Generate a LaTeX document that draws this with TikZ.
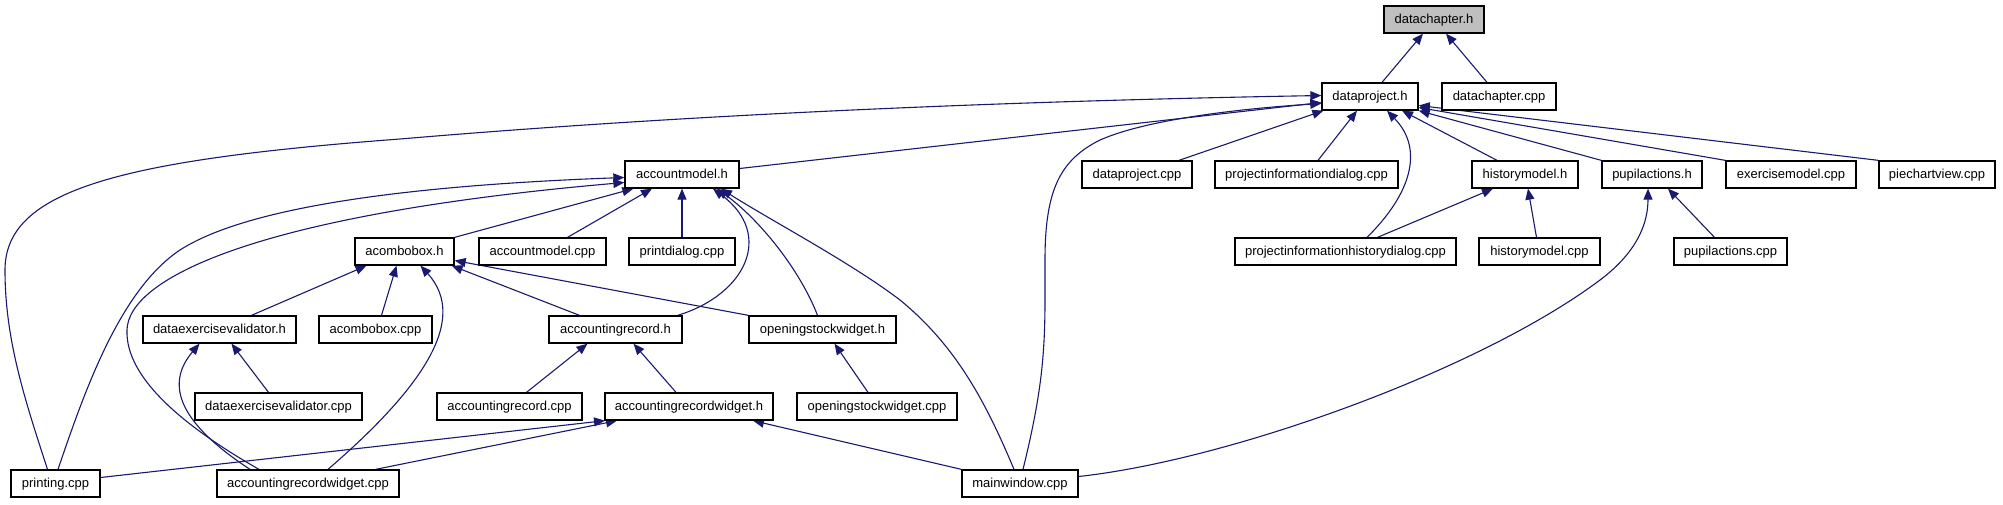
\documentclass[tikz,border=0pt]{standalone}
\usepackage{fontspec}
\setmainfont{Liberation Sans}
\usetikzlibrary{arrows.meta,calc}
\definecolor{edgeblue}{HTML}{191970}
\definecolor{rootgray}{HTML}{BFBFBF}
\pgfdeclarelayer{edges}
\pgfsetlayers{edges,main}
\begin{document}
\begin{tikzpicture}[x=1pt,y=-1pt,
  box/.style={draw=black, line width=1.3pt, fill=white, rectangle, minimum height=27pt,
    inner sep=0pt, text height=9.5pt, text depth=1.5pt, font=\fontsize{13pt}{15pt}\selectfont},
  dep/.style={draw=edgeblue, line width=1.1pt, -{Triangle[length=11pt,width=9pt]}}]
\useasboundingbox (0,0) rectangle (2003,504);
\begin{pgfonlayer}{edges}
\fill[white] (0,0) rectangle (2003,504);
\end{pgfonlayer}
% row 0
\node[box, minimum width=100pt, fill=rootgray] (dch) at (1434,19.5) {datachapter.h};
% row 1
\node[box, minimum width=96pt] (dp) at (1370,96.5) {dataproject.h};
\node[box, minimum width=114pt] (dchc) at (1499,96.5) {datachapter.cpp};
% row 2
\node[box, minimum width=114pt] (am) at (682,174.5) {accountmodel.h};
\node[box, minimum width=110pt] (dpc) at (1137,174.5) {dataproject.cpp};
\node[box, minimum width=183pt] (pid) at (1306.5,174.5) {projectinformationdialog.cpp};
\node[box, minimum width=106pt] (hm) at (1525,174.5) {historymodel.h};
\node[box, minimum width=100pt] (pa) at (1652,174.5) {pupilactions.h};
\node[box, minimum width=130pt] (em) at (1791,174.5) {exercisemodel.cpp};
\node[box, minimum width=116pt] (pcv) at (1937,174.5) {piechartview.cpp};
% row 3
\node[box, minimum width=99pt] (acb) at (404.5,251.5) {acombobox.h};
\node[box, minimum width=127pt] (amc) at (542.5,251.5) {accountmodel.cpp};
\node[box, minimum width=106pt] (pd) at (682,251.5) {printdialog.cpp};
\node[box, minimum width=221pt] (pihd) at (1345.5,251.5) {projectinformationhistorydialog.cpp};
\node[box, minimum width=121pt] (hmc) at (1539.5,251.5) {historymodel.cpp};
\node[box, minimum width=113pt] (pac) at (1730.5,251.5) {pupilactions.cpp};
% row 4
\node[box, minimum width=153pt] (dvh) at (219.5,329.5) {dataexercisevalidator.h};
\node[box, minimum width=113pt] (acbc) at (375.5,329.5) {acombobox.cpp};
\node[box, minimum width=133pt] (arh) at (615.5,329.5) {accountingrecord.h};
\node[box, minimum width=147pt] (osw) at (822.5,329.5) {openingstockwidget.h};
% row 5
\node[box, minimum width=167pt] (dvc) at (278.5,406.5) {dataexercisevalidator.cpp};
\node[box, minimum width=145pt] (arc) at (509.5,406.5) {accountingrecord.cpp};
\node[box, minimum width=168pt] (arwh) at (689,406.5) {accountingrecordwidget.h};
\node[box, minimum width=160pt] (oswc) at (877,406.5) {openingstockwidget.cpp};
% row 6
\node[box, minimum width=89pt] (pr) at (55.5,483.5) {printing.cpp};
\node[box, minimum width=182pt] (arwc) at (308,483.5) {accountingrecordwidget.cpp};
\node[box, minimum width=116pt] (mw) at (1020,483.5) {mainwindow.cpp};

\begin{pgfonlayer}{edges}
% edges to datachapter.h
\draw[dep] ($(dp.north)+(12,0)$) -- ($(dch.south)+(-11,0)$);
\draw[dep] ($(dchc.north)+(-12,0)$) -- ($(dch.south)+(12,0)$);
% edges to dataproject.h
\draw[dep] ($(am.east)+(0,-6)$) -- ($(dp.west)+(0,6)$);
\draw[dep] ($(pr.north)+(-8,0)$) .. controls (25,400) and (5,340) .. (5,270)
  .. controls (5,190) and (120,160) .. (400,139)
  .. controls (600,122) and (900,103) .. ($(dp.west)+(0,-1)$);
\draw[dep] ($(mw.north)+(3,0)$) .. controls (1040,400) and (1045,360) .. (1045,300) -- (1045,260)
  .. controls (1045,190) and (1060,160) .. (1100,140)
  .. controls (1150,118) and (1250,108) .. ($(dp.west)+(0,7)$);
\draw[dep] ($(dpc.north)+(42,0)$) -- ($(dp.south west)+(2,0)$);
\draw[dep] ($(pid.north)+(11.5,0)$) -- ($(dp.south)+(-13,0)$);
\draw[dep] ($(pihd.north)+(21.5,0)$) .. controls (1410,195) and (1425,150) .. ($(dp.south)+(17,0)$);
\draw[dep] ($(hm.north)+(-28,0)$) -- ($(dp.south)+(32,0)$);
\draw[dep] (pa.north west) -- (dp.south east);
\draw[dep] (em.north west) -- ($(dp.east)+(0,11)$);
\draw[dep] (pcv.north west) -- ($(dp.east)+(0,9)$);
% edges to accountmodel.h
\draw[dep] (acb.north east) -- ($(am.south west)+(9,0)$);
\draw[dep] ($(amc.north)+(25,0)$) -- ($(am.south)+(-30,0)$);
\draw[dep] (pd.north) -- (am.south);
\draw[dep] ($(arh.north east)+(-5,0)$) .. controls (745,295) and (775,235) .. ($(am.south)+(31,0)$);
\draw[dep] ($(osw.north)+(-5,0)$) .. controls (800,270) and (760,220) .. ($(am.south)+(35,0)$);
\draw[dep] ($(mw.north)+(-6,0)$) .. controls (985,400) and (955,345) .. (900,300)
  .. controls (850,262) and (770,220) .. ($(am.south)+(39,0)$);
\draw[dep] ($(pr.north)+(2.5,0)$) .. controls (85,390) and (120,290) .. (180,250)
  .. controls (250,205) and (420,185) .. ($(am.west)+(0,3)$);
\draw[dep] ($(arwc.north)+(-49,0)$) .. controls (190,430) and (125,380) .. (127,330)
  .. controls (128,280) and (250,215) .. ($(am.west)+(0,8)$);
% edges to acombobox.h
\draw[dep] ($(dvh.north)+(32,0)$) -- ($(acb.south)+(-38,0)$);
\draw[dep] ($(acbc.north)+(6,0)$) -- ($(acb.south)+(-8,0)$);
\draw[dep] ($(arwc.north)+(20,0)$) .. controls (420,390) and (470,320) .. ($(acb.south)+(16,0)$);
\draw[dep] ($(arh.north)+(-36,0)$) -- ($(acb.south east)+(-3,0)$);
\draw[dep] (osw.north west) -- ($(acb.east)+(0,9)$);
% edges to dataexercisevalidator.h
\draw[dep] ($(dvc.north)+(-10,0)$) -- ($(dvh.south)+(12,0)$);
\draw[dep] ($(arwc.north)+(-58,0)$) .. controls (190,430) and (160,390) .. ($(dvh.south)+(-20,0)$);
% edges to accountingrecord.h
\draw[dep] ($(arc.north)+(17,0)$) -- ($(arh.south)+(-28,0)$);
\draw[dep] ($(arwh.north)+(-13,0)$) -- ($(arh.south)+(18,0)$);
% edges to openingstockwidget.h
\draw[dep] ($(oswc.north)+(-9,0)$) -- ($(osw.south)+(12,0)$);
% edges to accountingrecordwidget.h
\draw[dep] ($(pr.east)+(0,-6)$) -- ($(arwh.south)+(-84,0)$);
\draw[dep] ($(arwc.north east)+(-24,0)$) -- ($(arwh.south)+(-72,0)$);
\draw[dep] (mw.north west) -- ($(arwh.south)+(64,0)$);
% edges to historymodel.h
\draw[dep] ($(pihd.north)+(32,0)$) -- ($(hm.south)+(-32,0)$);
\draw[dep] ($(hmc.north)+(-3,0)$) -- ($(hm.south)+(3,0)$);
% edges to pupilactions.h
\draw[dep] ($(pac.north)+(-16,0)$) -- ($(pa.south)+(16,0)$);
\draw[dep] ($(mw.east)+(0,-7)$) .. controls (1230,460) and (1480,370) .. (1600,280)
  .. controls (1640,250) and (1648,220) .. ($(pa.south)+(-4,0)$);
\end{pgfonlayer}
\end{tikzpicture}
\end{document}
